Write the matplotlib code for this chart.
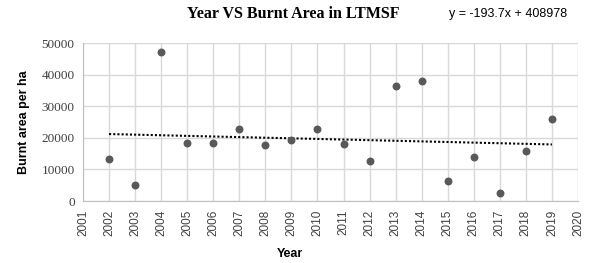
import numpy as np
import matplotlib
matplotlib.use("Agg")
import matplotlib.pyplot as plt

years = [2002, 2003, 2004, 2005, 2006, 2007, 2008, 2009, 2010,
         2011, 2012, 2013, 2014, 2015, 2016, 2017, 2018, 2019]
burnt_area = [13300, 5000, 47100, 18300, 18400, 22800, 17700, 19300, 22800,
              18000, 12600, 36500, 37900, 6300, 14000, 2600, 15700, 26000]
x_ticks = list(range(2001, 2021))
y_ticks = [0, 10000, 20000, 30000, 40000, 50000]
# trend line coefficients as printed on the chart
slope = -193.7
intercept = 408978
equation = "y = -193.7x + 408978"

fig = plt.figure(figsize=(5.9, 2.63), dpi=100)
ax = fig.add_axes([0.1407, 0.2357, 0.8390, 0.6008])

ax.scatter(years, burnt_area, s=22, color="#595959", zorder=3)

# linear trend line
xs = np.array([years[0], years[-1]])
ax.plot(xs, slope * xs + intercept, color="black", linestyle=(0, (1, 1)),
        linewidth=1.5, zorder=2)

ax.set_xlim(2001, 2020)
ax.set_ylim(0, 50000)
ax.set_xticks(x_ticks)
ax.set_xticklabels([str(t) for t in x_ticks], rotation=90,
                   fontsize=8.5, color="#404040", family="Liberation Sans")
ax.set_yticks(y_ticks)
ax.set_yticklabels([str(t) for t in y_ticks], fontsize=9.5,
                   color="#404040", family="Liberation Serif")
ax.tick_params(length=0, pad=6)
ax.grid(True, color="#d9d9d9", linewidth=1)
ax.set_axisbelow(True)
for side in ["top", "right"]:
    ax.spines[side].set_visible(False)
for side in ["left", "bottom"]:
    ax.spines[side].set_color("#bfbfbf")

ax.set_ylabel("Burnt area per ha", fontsize=9, fontweight="bold",
              family="Liberation Sans", labelpad=8)

fig.text(0.492, 0.035, "Year", ha="center", va="center", fontsize=9,
         fontweight="bold", family="Liberation Sans")
fig.text(0.497, 0.945, "Year VS Burnt Area in LTMSF", ha="center", va="center",
         fontsize=11.5, fontweight="bold", family="Liberation Serif")
fig.text(0.861, 0.945, equation, ha="center", va="center", fontsize=9,
         family="Liberation Sans")

fig.savefig("out.png", dpi=100)
